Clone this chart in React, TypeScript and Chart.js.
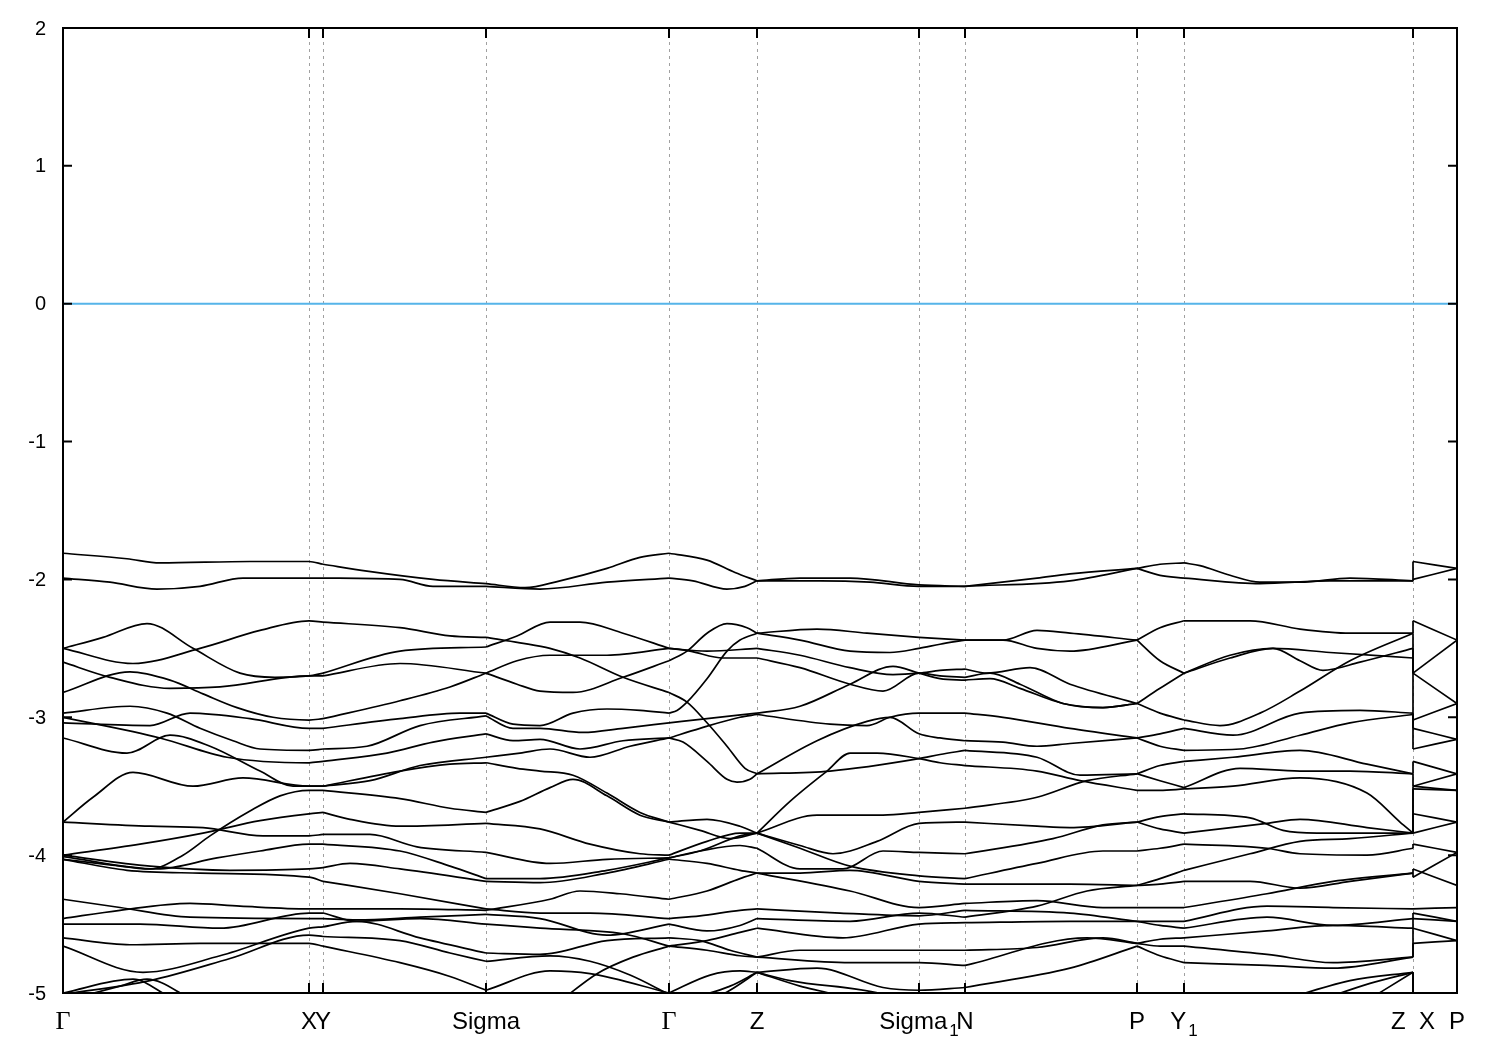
import { useEffect, useRef } from "react";
import { Chart, registerables } from "chart.js";

Chart.register(...registerables);

type Pt = [number, number];

// high-symmetry points along the k-path
const kTicks: number[] = [0, 0.246, 0.26, 0.423, 0.606, 0.694, 0.856, 0.902, 1.074, 1.121, 1.35, 1.394];
const kLabels: string[] = ["Γ", "X", "Y", "Sigma", "Γ", "Z", "Sigma_1", "N", "P", "Y_1", "Z  X", "P"];
const eTicks: number[] = [2, 1, 0, -1, -2, -3, -4, -5];
const fermiLevel = 0;

// band pieces, segment by segment: [k, E(eV)]
const segGammaX: Pt[][] = [
  [[0, -1.81], [0.064, -1.85], [0.097, -1.88], [0.187, -1.87], [0.246, -1.87], [0.26, -1.89]],
  [[0, -1.99], [0.047, -2.02], [0.094, -2.07], [0.137, -2.05], [0.18, -1.99], [0.246, -1.99], [0.26, -1.99]],
  [[0, -2.5], [0.04, -2.42], [0.084, -2.32], [0.13, -2.5], [0.177, -2.68], [0.212, -2.71], [0.246, -2.7], [0.26, -2.68]],
  [[0, -2.5], [0.07, -2.61], [0.137, -2.5], [0.197, -2.37], [0.246, -2.3], [0.26, -2.31]],
  [[0, -2.6], [0.047, -2.71], [0.107, -2.79], [0.157, -2.78], [0.246, -2.7], [0.26, -2.7]],
  [[0, -2.82], [0.067, -2.67], [0.107, -2.73], [0.14, -2.83], [0.174, -2.93], [0.21, -3.0], [0.246, -3.02], [0.26, -3.01]],
  [[0, -2.97], [0.067, -2.92], [0.104, -2.97], [0.137, -3.08], [0.17, -3.17], [0.197, -3.23], [0.246, -3.24], [0.26, -3.23]],
  [[0, -3.0], [0.097, -3.15], [0.164, -3.29], [0.246, -3.33], [0.26, -3.32]],
  [[0, -3.04], [0.087, -3.06], [0.127, -2.97], [0.187, -3.01], [0.246, -3.08], [0.26, -3.08]],
  [[0, -3.15], [0.064, -3.26], [0.107, -3.13], [0.147, -3.21], [0.197, -3.39], [0.23, -3.5], [0.246, -3.5], [0.26, -3.5]],
  [[0, -3.76], [0.03, -3.58], [0.07, -3.4], [0.13, -3.5], [0.18, -3.44], [0.246, -3.5], [0.26, -3.5]],
  [[0, -3.76], [0.087, -3.79], [0.14, -3.8], [0.2, -3.86], [0.246, -3.86], [0.26, -3.85]],
  [[0, -4.0], [0.077, -3.92], [0.14, -3.84], [0.197, -3.75], [0.246, -3.7], [0.26, -3.69]],
  [[0, -4.03], [0.047, -4.07], [0.087, -4.1], [0.12, -4.0], [0.147, -3.86], [0.187, -3.68], [0.217, -3.57], [0.246, -3.53], [0.26, -3.53]],
  [[0, -4.01], [0.094, -4.1], [0.154, -4.02], [0.197, -3.97], [0.246, -3.92], [0.26, -3.92]],
  [[0, -4.03], [0.064, -4.11], [0.137, -4.13], [0.246, -4.16], [0.26, -4.19]],
  [[0, -4.0], [0.087, -4.08], [0.167, -4.11], [0.246, -4.1], [0.26, -4.09]],
  [[0, -4.32], [0.057, -4.38], [0.127, -4.45], [0.246, -4.46], [0.26, -4.46]],
  [[0, -4.46], [0.057, -4.4], [0.127, -4.35], [0.177, -4.37], [0.246, -4.39], [0.26, -4.39]],
  [[0, -4.5], [0.077, -4.5], [0.157, -4.53], [0.246, -4.42], [0.26, -4.42]],
  [[0, -4.6], [0.067, -4.65], [0.137, -4.64], [0.246, -4.64], [0.26, -4.66]],
  [[0, -4.66], [0.08, -4.85], [0.157, -4.73], [0.246, -4.53], [0.26, -4.52]],
  [[0, -5.0], [0.07, -4.9], [0.102, -5.01], [0.127, -5.13]],
  [[0, -5.01], [0.087, -4.91], [0.167, -4.75], [0.246, -4.58], [0.26, -4.59]],
  [[0, -5.06], [0.057, -4.95], [0.084, -4.9], [0.122, -5.02], [0.137, -5.09]],
];

const segYSigma: Pt[][] = [
  [[0.26, -1.89], [0.304, -1.94], [0.37, -2.0], [0.423, -2.03]],
  [[0.26, -1.99], [0.337, -2.0], [0.37, -2.05], [0.423, -2.05]],
  [[0.26, -2.31], [0.337, -2.35], [0.387, -2.41], [0.423, -2.42]],
  [[0.26, -2.68], [0.337, -2.52], [0.423, -2.49]],
  [[0.26, -2.7], [0.337, -2.61], [0.423, -2.68]],
  [[0.26, -3.01], [0.337, -2.88], [0.387, -2.78], [0.423, -2.68]],
  [[0.26, -3.08], [0.337, -3.01], [0.397, -2.97], [0.423, -2.97]],
  [[0.26, -3.23], [0.304, -3.21], [0.357, -3.06], [0.423, -2.99]],
  [[0.26, -3.32], [0.324, -3.26], [0.37, -3.18], [0.423, -3.12]],
  [[0.26, -3.5], [0.307, -3.46], [0.357, -3.35], [0.423, -3.29]],
  [[0.26, -3.5], [0.337, -3.39], [0.387, -3.34], [0.423, -3.33]],
  [[0.26, -3.53], [0.337, -3.59], [0.387, -3.66], [0.423, -3.69]],
  [[0.26, -3.69], [0.287, -3.74], [0.337, -3.79], [0.423, -3.77]],
  [[0.26, -3.85], [0.307, -3.85], [0.354, -3.94], [0.423, -3.98]],
  [[0.26, -3.92], [0.337, -3.97], [0.387, -4.08], [0.423, -4.17]],
  [[0.26, -4.09], [0.287, -4.06], [0.337, -4.1], [0.423, -4.19]],
  [[0.26, -4.19], [0.337, -4.28], [0.423, -4.39]],
  [[0.26, -4.39], [0.337, -4.39], [0.423, -4.4]],
  [[0.26, -4.42], [0.294, -4.48], [0.357, -4.46], [0.423, -4.5]],
  [[0.26, -4.46], [0.294, -4.47], [0.357, -4.45], [0.423, -4.43]],
  [[0.26, -4.52], [0.294, -4.48], [0.357, -4.6], [0.423, -4.71]],
  [[0.26, -4.59], [0.337, -4.62], [0.387, -4.71], [0.423, -4.77]],
  [[0.26, -4.66], [0.337, -4.78], [0.387, -4.88], [0.423, -4.98]],
];

const segSigmaGamma: Pt[][] = [
  [[0.423, -2.03], [0.462, -2.06], [0.497, -2.01], [0.544, -1.92], [0.577, -1.84], [0.606, -1.81]],
  [[0.423, -2.05], [0.477, -2.07], [0.544, -2.02], [0.606, -1.99]],
  [[0.423, -2.49], [0.454, -2.41], [0.487, -2.31], [0.517, -2.31], [0.56, -2.39], [0.606, -2.5]],
  [[0.423, -2.42], [0.457, -2.46], [0.487, -2.5], [0.517, -2.57], [0.56, -2.71], [0.606, -2.82]],
  [[0.423, -2.68], [0.454, -2.59], [0.487, -2.55], [0.544, -2.55], [0.606, -2.5]],
  [[0.423, -2.68], [0.454, -2.76], [0.477, -2.81], [0.51, -2.82], [0.56, -2.71], [0.606, -2.59]],
  [[0.423, -2.97], [0.45, -3.05], [0.477, -3.06], [0.51, -2.97], [0.544, -2.94], [0.577, -2.95], [0.606, -2.97]],
  [[0.423, -2.99], [0.45, -3.08], [0.477, -3.08], [0.52, -3.11], [0.56, -3.08], [0.606, -3.04]],
  [[0.423, -3.12], [0.45, -3.17], [0.477, -3.16], [0.517, -3.23], [0.56, -3.17], [0.606, -3.15]],
  [[0.423, -3.29], [0.457, -3.26], [0.487, -3.23], [0.527, -3.29], [0.567, -3.21], [0.606, -3.15]],
  [[0.423, -3.33], [0.454, -3.37], [0.477, -3.39], [0.51, -3.42], [0.544, -3.55], [0.577, -3.69], [0.606, -3.76]],
  [[0.423, -3.69], [0.457, -3.61], [0.487, -3.51], [0.51, -3.45], [0.544, -3.57], [0.577, -3.71], [0.606, -3.76]],
  [[0.423, -3.77], [0.477, -3.81], [0.527, -3.92], [0.577, -3.99], [0.606, -4.0]],
  [[0.423, -3.98], [0.487, -4.06], [0.544, -4.03], [0.606, -4.02]],
  [[0.423, -4.17], [0.477, -4.17], [0.544, -4.11], [0.606, -4.02]],
  [[0.423, -4.19], [0.477, -4.2], [0.544, -4.13], [0.606, -4.03]],
  [[0.423, -4.4], [0.487, -4.32], [0.517, -4.26], [0.557, -4.28], [0.606, -4.32]],
  [[0.423, -4.39], [0.477, -4.42], [0.527, -4.42], [0.606, -4.46]],
  [[0.423, -4.43], [0.477, -4.46], [0.544, -4.58], [0.606, -4.5]],
  [[0.423, -4.5], [0.477, -4.53], [0.56, -4.57], [0.606, -4.66]],
  [[0.423, -4.71], [0.477, -4.72], [0.544, -4.62], [0.606, -4.6]],
  [[0.423, -4.98], [0.487, -4.84], [0.527, -4.86], [0.606, -5.0]],
  [[0.423, -4.77], [0.487, -4.73], [0.527, -4.77], [0.567, -4.87], [0.606, -5.01]],
  [[0.497, -5.06], [0.534, -4.86], [0.57, -4.74], [0.606, -4.66]],
];

const segGammaZ: Pt[][] = [
  [[0.606, -1.81], [0.644, -1.86], [0.672, -1.95], [0.694, -2.01]],
  [[0.606, -1.99], [0.63, -2.01], [0.664, -2.07], [0.682, -2.05], [0.694, -2.01]],
  [[0.606, -2.5], [0.644, -2.52], [0.694, -2.5]],
  [[0.606, -2.5], [0.627, -2.52], [0.66, -2.57], [0.694, -2.57]],
  [[0.606, -2.59], [0.624, -2.52], [0.644, -2.39], [0.664, -2.32], [0.684, -2.35], [0.694, -2.39]],
  [[0.606, -2.82], [0.624, -2.89], [0.644, -3.04], [0.664, -3.21], [0.682, -3.37], [0.694, -3.41]],
  [[0.606, -2.97], [0.614, -2.95], [0.624, -2.89], [0.644, -2.72], [0.664, -2.52], [0.677, -2.44], [0.694, -2.39]],
  [[0.606, -3.15], [0.62, -3.18], [0.644, -3.32], [0.664, -3.45], [0.674, -3.47], [0.687, -3.45], [0.694, -3.41]],
  [[0.606, -3.04], [0.644, -3.01], [0.694, -2.97]],
  [[0.606, -3.15], [0.637, -3.08], [0.677, -3.0], [0.694, -2.98]],
  [[0.606, -3.76], [0.644, -3.74], [0.677, -3.79], [0.694, -3.84]],
  [[0.606, -3.76], [0.637, -3.82], [0.667, -3.88], [0.694, -3.84]],
  [[0.606, -4.0], [0.644, -3.9], [0.677, -3.84], [0.694, -3.84]],
  [[0.606, -4.02], [0.637, -3.97], [0.677, -3.93], [0.694, -3.95]],
  [[0.606, -4.02], [0.637, -3.97], [0.677, -3.86], [0.694, -3.84]],
  [[0.606, -4.03], [0.644, -4.06], [0.677, -4.11], [0.694, -4.13]],
  [[0.606, -4.32], [0.644, -4.26], [0.677, -4.17], [0.694, -4.13]],
  [[0.606, -4.46], [0.637, -4.44], [0.677, -4.4], [0.694, -4.39]],
  [[0.606, -4.5], [0.644, -4.55], [0.677, -4.51], [0.694, -4.46]],
  [[0.606, -4.6], [0.637, -4.62], [0.667, -4.69], [0.694, -4.74]],
  [[0.606, -4.66], [0.644, -4.62], [0.677, -4.56], [0.694, -4.53]],
  [[0.606, -4.66], [0.644, -4.69], [0.677, -4.73], [0.694, -4.74]],
  [[0.606, -5.0], [0.647, -4.87], [0.677, -4.84], [0.694, -4.85]],
  [[0.606, -5.01], [0.637, -5.01], [0.667, -4.95], [0.694, -4.85]],
  [[0.637, -5.09], [0.667, -4.98], [0.694, -4.85]],
];

const segZSigma1N: Pt[][] = [
  [[0.694, -2.01], [0.737, -1.99], [0.787, -1.99], [0.856, -2.04], [0.902, -2.05]],
  [[0.694, -2.01], [0.757, -2.01], [0.807, -2.02], [0.856, -2.05], [0.902, -2.05]],
  [[0.694, -2.39], [0.754, -2.36], [0.804, -2.39], [0.856, -2.42], [0.877, -2.43], [0.902, -2.44]],
  [[0.694, -2.39], [0.737, -2.44], [0.787, -2.52], [0.827, -2.53], [0.856, -2.5], [0.877, -2.47], [0.902, -2.44]],
  [[0.694, -2.5], [0.737, -2.55], [0.787, -2.64], [0.83, -2.69], [0.856, -2.68], [0.877, -2.66], [0.902, -2.65]],
  [[0.694, -2.57], [0.737, -2.64], [0.787, -2.76], [0.82, -2.81], [0.856, -2.68], [0.877, -2.7], [0.902, -2.71]],
  [[0.694, -2.97], [0.737, -2.92], [0.787, -2.76], [0.83, -2.63], [0.856, -2.68], [0.877, -2.72], [0.902, -2.73]],
  [[0.694, -2.98], [0.767, -3.05], [0.804, -3.06], [0.827, -3.0], [0.856, -2.97], [0.877, -2.97], [0.902, -2.97]],
  [[0.694, -3.41], [0.754, -3.17], [0.804, -3.03], [0.827, -3.0], [0.856, -3.12], [0.877, -3.15], [0.902, -3.17]],
  [[0.694, -3.41], [0.767, -3.39], [0.856, -3.3], [0.877, -3.27], [0.902, -3.24]],
  [[0.694, -3.84], [0.727, -3.61], [0.764, -3.39], [0.787, -3.26], [0.814, -3.26], [0.856, -3.3], [0.877, -3.33], [0.902, -3.35]],
  [[0.694, -3.84], [0.754, -3.71], [0.82, -3.71], [0.856, -3.69], [0.902, -3.66]],
  [[0.694, -3.84], [0.737, -3.93], [0.77, -3.99], [0.814, -3.9], [0.856, -3.77], [0.902, -3.76]],
  [[0.694, -3.84], [0.737, -3.95], [0.787, -4.08], [0.856, -4.15], [0.902, -4.17]],
  [[0.694, -3.95], [0.737, -4.1], [0.78, -4.1], [0.82, -3.97], [0.856, -3.98], [0.902, -3.99]],
  [[0.694, -4.13], [0.737, -4.13], [0.787, -4.11], [0.856, -4.19], [0.902, -4.21]],
  [[0.694, -4.13], [0.787, -4.26], [0.856, -4.38], [0.902, -4.35]],
  [[0.694, -4.39], [0.777, -4.42], [0.856, -4.44], [0.902, -4.4]],
  [[0.694, -4.46], [0.787, -4.48], [0.856, -4.42], [0.902, -4.45]],
  [[0.694, -4.53], [0.78, -4.6], [0.856, -4.5], [0.902, -4.49]],
  [[0.694, -4.74], [0.737, -4.69], [0.856, -4.69], [0.902, -4.69]],
  [[0.694, -4.74], [0.787, -4.78], [0.856, -4.78], [0.902, -4.8]],
  [[0.694, -4.85], [0.754, -4.82], [0.82, -4.96], [0.856, -4.98], [0.902, -4.96]],
  [[0.694, -4.85], [0.737, -4.95], [0.77, -5.01], [0.787, -5.06]],
  [[0.694, -4.85], [0.727, -4.91], [0.82, -5.01], [0.837, -5.06]],
];

const segNP: Pt[][] = [
  [[0.902, -2.05], [0.974, -1.99], [1.007, -1.96], [1.074, -1.92]],
  [[0.902, -2.05], [1.007, -2.01], [1.074, -1.92]],
  [[0.902, -2.44], [0.94, -2.44], [0.974, -2.37], [1.007, -2.39], [1.074, -2.44]],
  [[0.902, -2.44], [0.94, -2.44], [0.974, -2.5], [1.007, -2.52], [1.074, -2.44]],
  [[0.902, -2.65], [0.924, -2.68], [0.967, -2.64], [1.007, -2.76], [1.074, -2.9]],
  [[0.902, -2.71], [0.927, -2.68], [0.957, -2.76], [1.0, -2.9], [1.04, -2.93], [1.074, -2.9]],
  [[0.902, -2.73], [0.927, -2.72], [0.957, -2.79], [1.0, -2.9], [1.04, -2.93], [1.074, -2.9]],
  [[0.902, -2.97], [0.94, -3.0], [1.007, -3.08], [1.074, -3.15]],
  [[0.902, -3.17], [0.94, -3.18], [0.974, -3.21], [1.007, -3.19], [1.074, -3.15]],
  [[0.902, -3.24], [0.974, -3.29], [1.017, -3.42], [1.074, -3.41]],
  [[0.902, -3.35], [0.974, -3.39], [1.017, -3.46], [1.074, -3.53]],
  [[0.902, -3.66], [0.974, -3.58], [1.024, -3.46], [1.074, -3.41]],
  [[0.902, -3.76], [0.974, -3.79], [1.007, -3.8], [1.074, -3.76]],
  [[0.902, -3.99], [0.99, -3.88], [1.04, -3.78], [1.074, -3.76]],
  [[0.902, -4.17], [0.974, -4.06], [1.04, -3.97], [1.074, -3.97]],
  [[0.902, -4.21], [1.007, -4.21], [1.074, -4.22]],
  [[0.902, -4.35], [0.974, -4.33], [1.04, -4.38], [1.074, -4.38]],
  [[0.902, -4.4], [1.007, -4.42], [1.074, -4.48]],
  [[0.902, -4.45], [0.974, -4.37], [1.024, -4.26], [1.074, -4.22]],
  [[0.902, -4.49], [1.007, -4.48], [1.074, -4.48]],
  [[0.902, -4.69], [0.974, -4.67], [1.04, -4.6], [1.074, -4.64]],
  [[0.902, -4.8], [1.024, -4.6], [1.074, -4.64]],
  [[0.902, -4.96], [1.007, -4.82], [1.074, -4.66]],
];

const segPY1: Pt[][] = [
  [[1.074, -1.92], [1.097, -1.89], [1.121, -1.88]],
  [[1.074, -1.92], [1.097, -1.97], [1.121, -1.99]],
  [[1.074, -2.44], [1.097, -2.35], [1.121, -2.3]],
  [[1.074, -2.44], [1.097, -2.59], [1.121, -2.68]],
  [[1.074, -2.9], [1.097, -2.79], [1.121, -2.68]],
  [[1.074, -2.9], [1.097, -2.97], [1.121, -3.02]],
  [[1.074, -3.15], [1.097, -3.12], [1.121, -3.08]],
  [[1.074, -3.15], [1.097, -3.21], [1.121, -3.24]],
  [[1.074, -3.41], [1.097, -3.35], [1.121, -3.32]],
  [[1.074, -3.41], [1.097, -3.46], [1.121, -3.51]],
  [[1.074, -3.53], [1.097, -3.53], [1.121, -3.52]],
  [[1.074, -3.76], [1.097, -3.72], [1.121, -3.7]],
  [[1.074, -3.76], [1.097, -3.81], [1.121, -3.84]],
  [[1.074, -3.97], [1.097, -3.95], [1.121, -3.92]],
  [[1.074, -4.22], [1.097, -4.17], [1.121, -4.11]],
  [[1.074, -4.22], [1.097, -4.21], [1.121, -4.19]],
  [[1.074, -4.38], [1.097, -4.38], [1.121, -4.38]],
  [[1.074, -4.48], [1.097, -4.48], [1.121, -4.48]],
  [[1.074, -4.48], [1.097, -4.51], [1.121, -4.53]],
  [[1.074, -4.64], [1.097, -4.61], [1.121, -4.6]],
  [[1.074, -4.64], [1.097, -4.66], [1.121, -4.66]],
  [[1.074, -4.66], [1.097, -4.73], [1.121, -4.78]],
];

const segY1Z: Pt[][] = [
  [[1.121, -1.88], [1.137, -1.9], [1.167, -1.97], [1.197, -2.02], [1.237, -2.02], [1.287, -1.99], [1.35, -2.01]],
  [[1.121, -1.99], [1.197, -2.03], [1.267, -2.01], [1.35, -2.01]],
  [[1.121, -2.3], [1.187, -2.3], [1.237, -2.36], [1.287, -2.39], [1.35, -2.39]],
  [[1.121, -3.02], [1.157, -3.06], [1.197, -2.97], [1.237, -2.81], [1.287, -2.59], [1.35, -2.39]],
  [[1.121, -2.68], [1.167, -2.55], [1.21, -2.5], [1.237, -2.59], [1.26, -2.66], [1.297, -2.6], [1.35, -2.5]],
  [[1.121, -2.68], [1.167, -2.57], [1.21, -2.5], [1.267, -2.53], [1.35, -2.57]],
  [[1.121, -3.08], [1.17, -3.13], [1.237, -2.97], [1.297, -2.95], [1.35, -2.97]],
  [[1.121, -3.24], [1.177, -3.23], [1.237, -3.13], [1.287, -3.04], [1.35, -2.98]],
  [[1.121, -3.32], [1.17, -3.29], [1.237, -3.24], [1.304, -3.34], [1.35, -3.41]],
  [[1.121, -3.51], [1.177, -3.37], [1.237, -3.39], [1.287, -3.39], [1.35, -3.41]],
  [[1.121, -3.52], [1.17, -3.5], [1.237, -3.44], [1.304, -3.55], [1.337, -3.76], [1.35, -3.84]],
  [[1.121, -3.7], [1.187, -3.73], [1.22, -3.82], [1.254, -3.84], [1.35, -3.84]],
  [[1.121, -3.84], [1.204, -3.77], [1.237, -3.74], [1.304, -3.8], [1.35, -3.84]],
  [[1.121, -3.92], [1.204, -3.95], [1.237, -3.99], [1.304, -4.0], [1.35, -3.95]],
  [[1.121, -4.11], [1.187, -3.99], [1.237, -3.9], [1.287, -3.88], [1.35, -3.84]],
  [[1.121, -4.19], [1.187, -4.19], [1.237, -4.24], [1.287, -4.19], [1.35, -4.13]],
  [[1.121, -4.38], [1.204, -4.28], [1.27, -4.19], [1.35, -4.13]],
  [[1.121, -4.48], [1.204, -4.37], [1.27, -4.38], [1.35, -4.39]],
  [[1.121, -4.53], [1.204, -4.45], [1.27, -4.51], [1.35, -4.46]],
  [[1.121, -4.6], [1.204, -4.55], [1.27, -4.51], [1.35, -4.53]],
  [[1.121, -4.66], [1.204, -4.72], [1.27, -4.78], [1.35, -4.74]],
  [[1.121, -4.78], [1.204, -4.8], [1.27, -4.82], [1.35, -4.74]],
  [[1.187, -5.13], [1.287, -4.91], [1.35, -4.85]],
  [[1.227, -5.13], [1.307, -4.93], [1.35, -4.85]],
  [[1.287, -5.13], [1.35, -4.85]],
];

const segXP: Pt[][] = [
  [[1.35, -1.87], [1.394, -1.92]],
  [[1.35, -2.0], [1.394, -1.92]],
  [[1.35, -2.3], [1.394, -2.44]],
  [[1.35, -2.68], [1.394, -2.44]],
  [[1.35, -2.68], [1.394, -2.9]],
  [[1.35, -3.02], [1.394, -2.9]],
  [[1.35, -3.08], [1.394, -3.16]],
  [[1.35, -3.23], [1.394, -3.16]],
  [[1.35, -3.32], [1.394, -3.41]],
  [[1.35, -3.5], [1.394, -3.41]],
  [[1.35, -3.5], [1.394, -3.53]],
  [[1.35, -3.52], [1.394, -3.53]],
  [[1.35, -3.7], [1.394, -3.76]],
  [[1.35, -3.84], [1.394, -3.76]],
  [[1.35, -3.92], [1.394, -3.98]],
  [[1.35, -4.1], [1.394, -4.22]],
  [[1.35, -4.16], [1.394, -3.98]],
  [[1.35, -4.39], [1.394, -4.38]],
  [[1.35, -4.42], [1.394, -4.48]],
  [[1.35, -4.46], [1.394, -4.48]],
  [[1.35, -4.53], [1.394, -4.62]],
  [[1.35, -4.64], [1.394, -4.62]],
  [[1.35, -5.2], [1.394, -5.3]],
  [[1.35, -5.25], [1.394, -5.35]],
  [[1.35, -5.3], [1.394, -5.4]],
];

const allSegments: Pt[][][] = [segGammaX, segYSigma, segSigmaGamma, segGammaZ, segZSigma1N, segNP, segPY1, segY1Z, segXP];

const SANS = '"Liberation Sans", Arial, Helvetica, sans-serif';
const SERIF = '"Liberation Serif", "Times New Roman", serif';

function drawKLabel(ctx: CanvasRenderingContext2D, text: string, cx: number, baseY: number) {
  const [main, sub] = text.split("_");
  const mainFont = main === "Γ" ? `26px ${SERIF}` : `24px ${SANS}`;
  const subFont = `17px ${SANS}`;
  ctx.font = mainFont;
  const wm = ctx.measureText(main).width;
  let ws = 0;
  if (sub) {
    ctx.font = subFont;
    ws = ctx.measureText(sub).width + 2;
  }
  const x0 = cx - (wm + ws) / 2;
  ctx.textAlign = "left";
  ctx.textBaseline = "alphabetic";
  ctx.font = mainFont;
  ctx.fillText(main, x0, baseY);
  if (sub) {
    ctx.font = subFont;
    ctx.fillText(sub, x0 + wm + 2, baseY + 7);
  }
}

const framePlugin = {
  id: "bandFrame",
  beforeDatasetsDraw(chart: any) {
    const { ctx, chartArea: a, scales } = chart;
    const xs = scales.x;
    const ys = scales.y;
    ctx.save();
    ctx.strokeStyle = "#a0a0a0";
    ctx.lineWidth = 1;
    ctx.setLineDash([3, 4]);
    kTicks.forEach((k) => {
      const px = Math.round(xs.getPixelForValue(k)) + 0.5;
      if (px <= a.left + 2 || px >= a.right - 2) return;
      ctx.beginPath();
      ctx.moveTo(px, a.top);
      ctx.lineTo(px, a.bottom);
      ctx.stroke();
    });
    ctx.setLineDash([]);
    const y0 = ys.getPixelForValue(fermiLevel);
    ctx.strokeStyle = "#56b4e9";
    ctx.lineWidth = 2;
    ctx.beginPath();
    ctx.moveTo(a.left, y0);
    ctx.lineTo(a.right, y0);
    ctx.stroke();
    ctx.restore();
  },
  afterDatasetsDraw(chart: any) {
    const { ctx, chartArea: a, scales } = chart;
    const xs = scales.x;
    const ys = scales.y;
    ctx.save();
    ctx.strokeStyle = "#000";
    ctx.lineWidth = 2;
    ctx.strokeRect(a.left, a.top, a.right - a.left, a.bottom - a.top);
    ctx.beginPath();
    eTicks.forEach((e) => {
      const py = ys.getPixelForValue(e);
      ctx.moveTo(a.left, py);
      ctx.lineTo(a.left + 9, py);
      ctx.moveTo(a.right, py);
      ctx.lineTo(a.right - 9, py);
    });
    kTicks.forEach((k) => {
      const px = xs.getPixelForValue(k);
      ctx.moveTo(px, a.bottom);
      ctx.lineTo(px, a.bottom - 10);
      ctx.moveTo(px, a.top);
      ctx.lineTo(px, a.top + 10);
    });
    ctx.stroke();
    ctx.fillStyle = "#000";
    ctx.font = `20px ${SANS}`;
    ctx.textAlign = "right";
    ctx.textBaseline = "middle";
    eTicks.forEach((e) => {
      ctx.fillText(String(e), a.left - 17, ys.getPixelForValue(e) + 1);
    });
    kTicks.forEach((k, i) => {
      drawKLabel(ctx, kLabels[i], xs.getPixelForValue(k), a.bottom + 36);
    });
    ctx.restore();
  },
};

export default function App() {
  const ref = useRef<HTMLCanvasElement>(null);
  useEffect(() => {
    const canvas = ref.current;
    if (!canvas) return;
    const lineStyle = {
      showLine: true,
      borderColor: "#000",
      backgroundColor: "#000",
      borderWidth: 1.7,
      pointRadius: 0,
      pointHoverRadius: 0,
      fill: false,
    };
    const datasets: any[] = [];
    allSegments.forEach((seg) => {
      seg.forEach((curve) => {
        datasets.push({
          ...lineStyle,
          cubicInterpolationMode: "monotone",
          data: curve.map(([x, y]) => ({ x, y })),
        });
      });
    });
    // vertical jumps at the Z|X discontinuity
    const zEnds = segY1Z.map((c) => c[c.length - 1][1]).sort((p, q) => q - p);
    const xStarts = segXP.map((c) => c[0][1]).sort((p, q) => q - p);
    const kJump = kTicks[10];
    const n = Math.min(zEnds.length, xStarts.length);
    for (let i = 0; i < n; i++) {
      datasets.push({
        ...lineStyle,
        tension: 0,
        data: [
          { x: kJump, y: zEnds[i] },
          { x: kJump, y: xStarts[i] },
        ],
      });
    }
    const chart = new Chart(canvas, {
      type: "scatter",
      data: { datasets },
      options: {
        animation: false,
        responsive: false,
        maintainAspectRatio: false,
        devicePixelRatio: 1,
        events: [],
        layout: { padding: { left: 63, top: 28, right: 43, bottom: 57 } },
        plugins: { legend: { display: false }, tooltip: { enabled: false } },
        scales: {
          x: { type: "linear", min: 0, max: kTicks[kTicks.length - 1], display: false },
          y: { type: "linear", min: -5, max: 2, display: false },
        },
      },
      plugins: [framePlugin],
    } as any);
    return () => chart.destroy();
  }, []);
  return (
    <div style={{ position: "absolute", left: 0, top: 0, width: 1500, height: 1050, background: "#fff" }}>
      <canvas ref={ref} width={1500} height={1050} style={{ display: "block", width: 1500, height: 1050 }} />
    </div>
  );
}
